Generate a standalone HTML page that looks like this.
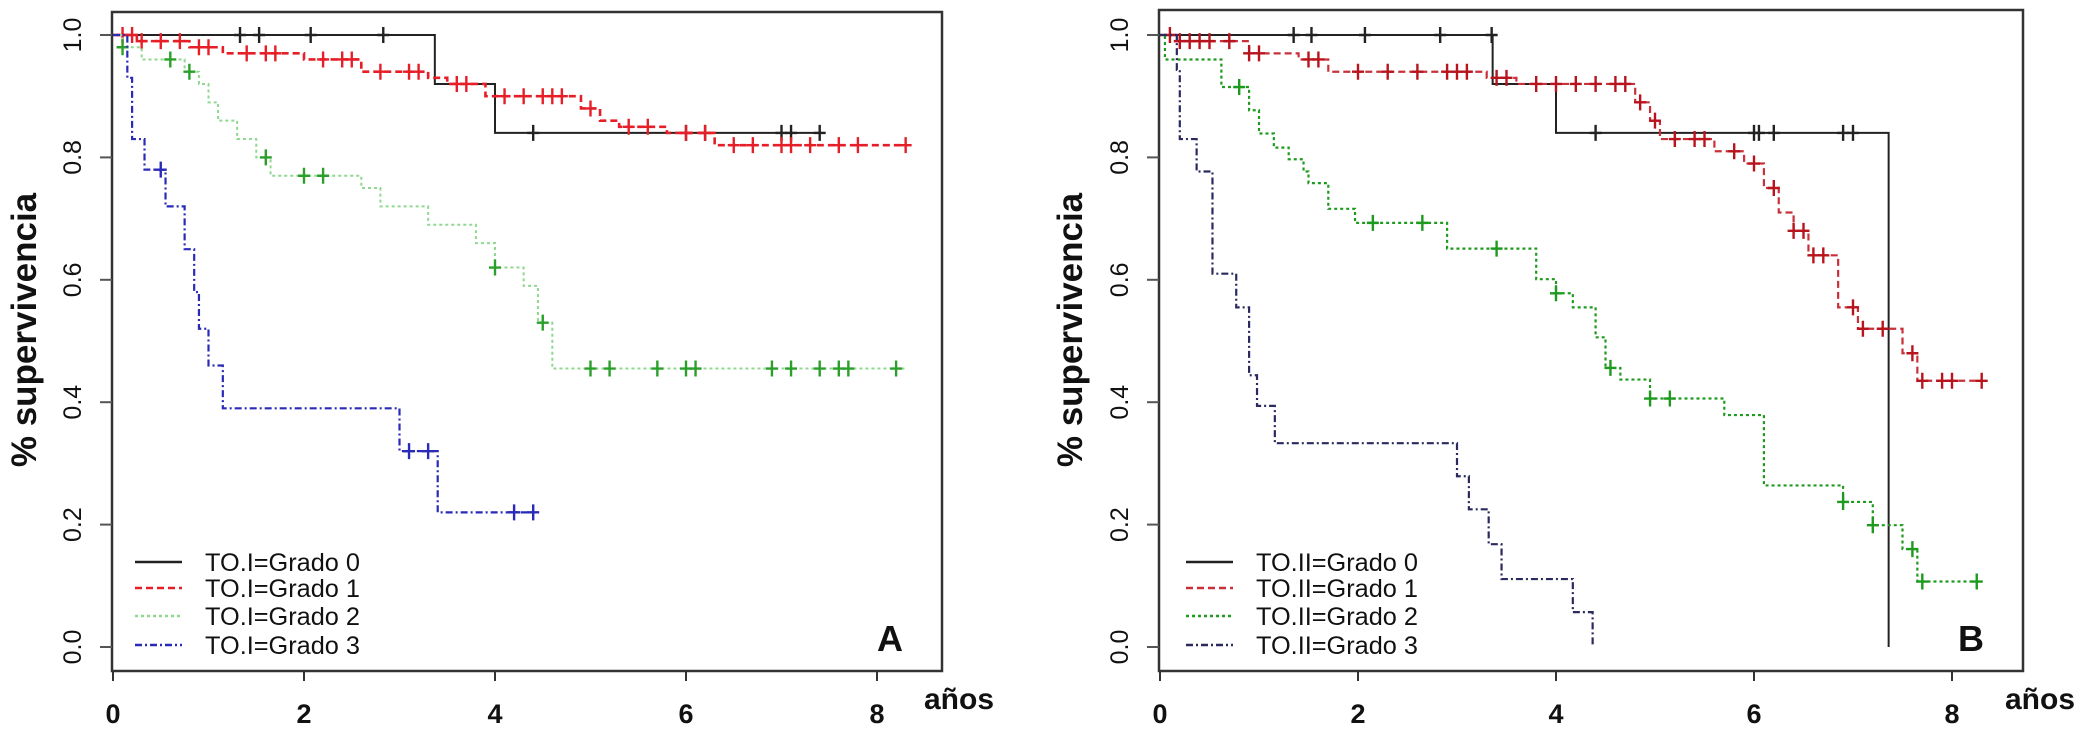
<!DOCTYPE html>
<html><head><meta charset="utf-8">
<style>
html,body{margin:0;padding:0;background:#fff;}
svg{display:block;font-family:"Liberation Sans",sans-serif;}
</style></head>
<body>
<svg id="fig" width="2083" height="735" viewBox="0 0 2083 735"></svg>
<script>
// ---------- DATA ----------
const aG0Times=[0,3.37,4.0], aG0Surv=[1.0,0.92,0.84], aG0End=7.43;
const aG0Cens=[1.33,1.53,2.07,2.83,4.4,6.0,6.2,7.0,7.1,7.4];
const aG1Times=[0,0.25,0.8,1.15,2.0,2.6,3.3,3.5,3.9,4.9,5.1,5.3,5.8,6.3], aG1Surv=[1.0,0.99,0.98,0.97,0.96,0.94,0.93,0.92,0.90,0.88,0.86,0.85,0.84,0.82], aG1End=8.3;
const aG1Cens=[0.1,0.2,0.3,0.5,0.7,0.9,1.0,1.4,1.6,1.7,2.2,2.4,2.5,2.8,3.1,3.2,3.6,3.7,4.1,4.3,4.5,4.6,4.7,5.0,5.4,5.6,6.0,6.2,6.5,6.7,7.0,7.1,7.3,7.6,7.8,8.3];
const aG2Times=[0,0.1,0.3,0.75,0.9,1.0,1.1,1.3,1.5,1.65,2.6,2.8,3.3,3.8,4.0,4.3,4.45,4.6], aG2Surv=[1.0,0.98,0.96,0.94,0.92,0.89,0.86,0.83,0.80,0.77,0.75,0.72,0.69,0.66,0.62,0.59,0.53,0.455], aG2End=8.3;
const aG2Cens=[0.1,0.6,0.8,1.6,2.0,2.2,4.0,4.5,5.0,5.2,5.7,6.0,6.1,6.9,7.1,7.4,7.6,7.7,8.2];
const aG3Times=[0,0.15,0.2,0.33,0.55,0.75,0.85,0.9,1.0,1.15,3.0,3.4], aG3Surv=[1.0,0.93,0.83,0.78,0.72,0.65,0.58,0.52,0.46,0.39,0.32,0.22], aG3End=4.4;
const aG3Cens=[0.5,3.1,3.3,4.2,4.4];
const bG0Times=[0,3.36,4.0,7.36], bG0Surv=[1.0,0.92,0.84,0.0], bG0End=7.36;
const bG0Cens=[1.35,1.53,2.07,2.83,3.35,4.4,6.0,6.05,6.2,6.9,7.0];
const bG1Times=[0,0.2,0.9,1.4,1.7,3.3,3.6,4.8,4.95,5.05,5.6,5.9,6.1,6.25,6.4,6.55,6.85,7.05,7.5,7.65], bG1Surv=[1.0,0.99,0.97,0.96,0.94,0.93,0.92,0.89,0.86,0.83,0.81,0.79,0.75,0.71,0.68,0.64,0.555,0.52,0.48,0.435], bG1End=8.3;
const bG1Cens=[0.1,0.2,0.3,0.4,0.5,0.7,0.9,1.0,1.5,1.6,2.0,2.3,2.6,2.9,3.0,3.1,3.4,3.5,3.8,4.0,4.2,4.4,4.6,4.7,4.85,5.0,5.2,5.4,5.5,5.8,6.0,6.2,6.4,6.5,6.6,6.7,7.0,7.1,7.3,7.6,7.7,7.9,8.0,8.3];
const bG2Times=[0,0.05,0.62,0.9,1.0,1.15,1.3,1.45,1.5,1.7,1.97,2.9,3.8,4.0,4.17,4.4,4.5,4.65,4.95,5.7,6.1,6.9,7.2,7.5,7.65], bG2Surv=[1.0,0.96,0.915,0.877,0.839,0.816,0.797,0.777,0.758,0.716,0.693,0.651,0.601,0.578,0.555,0.506,0.456,0.437,0.406,0.379,0.264,0.237,0.199,0.16,0.107], bG2End=8.3;
const bG2Cens=[0.8,2.15,2.65,3.4,4.0,4.55,4.95,5.15,6.9,7.2,7.6,7.7,8.25];
const bG3Times=[0,0.17,0.2,0.37,0.53,0.77,0.9,0.98,1.16,3.0,3.12,3.32,3.45,4.17,4.37], bG3Surv=[1.0,0.943,0.83,0.777,0.61,0.555,0.444,0.394,0.333,0.279,0.225,0.168,0.111,0.057,0.004], bG3End=4.37;
const bG3Cens=[];
const xTicks=[0,2,4,6,8];
const yTicks=[0.0,0.2,0.4,0.6,0.8,1.0];
const yTickLabels=["0.0","0.2","0.4","0.6","0.8","1.0"];
const legendLabelsA=["TO.I=Grado 0","TO.I=Grado 1","TO.I=Grado 2","TO.I=Grado 3"];
const legendLabelsB=["TO.II=Grado 0","TO.II=Grado 1","TO.II=Grado 2","TO.II=Grado 3"];

// ---------- DRAW ----------
const NS="http://www.w3.org/2000/svg";
const svg=document.getElementById('fig');
function mk(tag,attrs,parent){const e=document.createElementNS(NS,tag);for(const k in attrs)e.setAttribute(k,attrs[k]);(parent||svg).appendChild(e);return e;}

function panel(cfg){
  const g=mk('g',{});
  
  
  const X=t=>cfg.x0+cfg.ux*t, Y=s=>cfg.y0-cfg.uy*s;
  const box=mk('rect',{x:cfg.bl,y:cfg.bt,width:cfg.br-cfg.bl,height:cfg.bb-cfg.bt,fill:'none',stroke:'#333','stroke-width':2.5},g);
  
  
  xTicks.forEach(v=>{
    mk('line',{x1:X(v),x2:X(v),y1:cfg.bb,y2:cfg.bb+10,stroke:'#333','stroke-width':2},g);
    const t=mk('text',{x:X(v),y:cfg.bb+52,'font-size':27,'font-weight':'bold','text-anchor':'middle',fill:'#111'},g);
    t.textContent=v;
    
    
  });
  yTicks.forEach((v,i)=>{
    mk('line',{x1:cfg.bl-12,x2:cfg.bl,y1:Y(v),y2:Y(v),stroke:'#555','stroke-width':2},g);
    const t=mk('text',{x:cfg.bl-40,y:Y(v),'font-size':25,'text-anchor':'middle',fill:'#111',transform:`rotate(-90 ${cfg.bl-40} ${Y(v)}) translate(0 9)`},g);
    t.textContent=yTickLabels[i];
    
    
  });
  const yt=mk('text',{x:cfg.ytx,y:330,'font-size':35,'font-weight':'bold','text-anchor':'middle',fill:'#111',transform:`rotate(-90 ${cfg.ytx} 330) translate(0 12)`},g);
  yt.textContent='% supervivencia';
  
  
  const xt=mk('text',{x:cfg.br-18,y:cfg.bb+38,'font-size':30,'font-weight':'bold',fill:'#111'},g);
  xt.textContent='años';
  
  
  const pl=mk('text',{x:cfg.br-65,y:cfg.bb-20,'font-size':36,'font-weight':'bold',fill:'#111'},g);
  pl.textContent=cfg.letter;
  
  

  cfg.series.forEach((s,si)=>{
    let d=`M${X(s.times[0])},${Y(s.surv[0])}`;
    for(let i=1;i<s.times.length;i++){d+=` H${X(s.times[i])} V${Y(s.surv[i])}`;}
    d+=` H${X(s.end)}`;
    const p=mk('path',{d:d,fill:'none',stroke:s.color,'stroke-width':s.w||2.2,'stroke-dasharray':s.dash||'none'},g);
    
    
    s.cens.forEach(c=>{
      let v=s.surv[0];
      for(let i=0;i<s.times.length;i++){if(s.times[i]<=c)v=s.surv[i];}
      const cm=mk('path',{d:`M${X(c)-6},${Y(v)} h12 M${X(c)},${Y(v)-8} v16`,stroke:s.mark||s.color,'stroke-width':2.4,fill:'none'},g);
      
      
    });
  });
  cfg.series.forEach((s,i)=>{
    const ly=cfg.legY[i];
    const ll=mk('line',{x1:cfg.legX,x2:cfg.legX+47,y1:ly,y2:ly,stroke:s.color,'stroke-width':2.5,'stroke-dasharray':s.dash||'none'},g);
    
    
    const lt=mk('text',{x:cfg.legX+70,y:ly+9,'font-size':25,fill:'#111',textLength:cfg.legW,lengthAdjust:'spacingAndGlyphs'},g);
    lt.textContent=cfg.legLabels[i];
    
    
  });
}

panel({name:'panel-a',letter:'A',x0:113,ux:95.5,y0:647,uy:612,bl:112,br:942,bt:12,bb:671,ytx:24,
  legX:135,legY:[562,588,616,645],legLabels:legendLabelsA,legW:155,
  series:[
    {times:aG0Times,surv:aG0Surv,end:aG0End,cens:aG0Cens,color:'#222',w:2},
    {times:aG1Times,surv:aG1Surv,end:aG1End,cens:aG1Cens,color:'#e61e28',dash:'7 4',w:2.6},
    {times:aG2Times,surv:aG2Surv,end:aG2End,cens:aG2Cens,color:'#8fd88f',mark:'#2aa02a',dash:'3 3',w:2},
    {times:aG3Times,surv:aG3Surv,end:aG3End,cens:aG3Cens,color:'#2a2ab8',dash:'7 3 2 3',w:2.2}
  ]});
panel({name:'panel-b',letter:'B',x0:1160,ux:99,y0:647,uy:612,bl:1159,br:2023,bt:10,bb:671,ytx:1070,
  legX:1186,legY:[562,588,616,645],legLabels:legendLabelsB,legW:162,
  series:[
    {times:bG0Times,surv:bG0Surv,end:bG0End,cens:bG0Cens,color:'#222',w:2},
    {times:bG1Times,surv:bG1Surv,end:bG1End,cens:bG1Cens,color:'#c8303a',mark:'#b8141e',dash:'7 4',w:2.2},
    {times:bG2Times,surv:bG2Surv,end:bG2End,cens:bG2Cens,color:'#1e9a1e',dash:'3 3',w:2.2},
    {times:bG3Times,surv:bG3Surv,end:bG3End,cens:bG3Cens,color:'#2a2a60',dash:'7 3 2 3',w:2.2}
  ]});
</script>
</body></html>
